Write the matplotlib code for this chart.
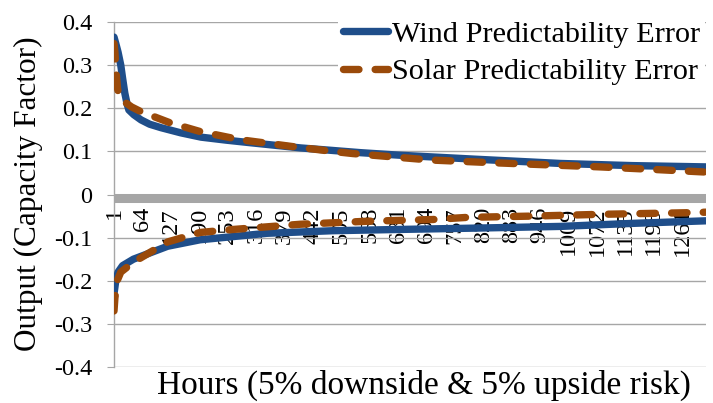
import matplotlib
matplotlib.use("Agg")
import matplotlib.pyplot as plt
from matplotlib.transforms import offset_copy

# ========== DATA ==========
wind_up_hours = [1, 5, 10, 16, 20, 25, 30, 34, 45, 61, 80, 105, 149, 194, 250, 304, 415, 548, 636, 800, 991, 1150, 1314]
wind_up = [0.365, 0.35, 0.33, 0.30, 0.27, 0.235, 0.21, 0.196, 0.185, 0.173, 0.163, 0.155, 0.143, 0.133,
           0.126, 0.12, 0.108, 0.097, 0.091, 0.082, 0.072, 0.067, 0.064]

solar_up_hours = [1, 3, 6, 9, 12, 20, 40, 61, 126, 192, 281, 398, 486, 530, 702, 858, 1079, 1200, 1314]
solar_up = [0.35, 0.33, 0.28, 0.245, 0.228, 0.218, 0.203, 0.192, 0.166, 0.146, 0.127, 0.111, 0.1, 0.095,
            0.08, 0.073, 0.064, 0.058, 0.052]

wind_down_hours = [1, 5, 10, 20, 44, 120, 192, 340, 485, 636, 800, 991, 1150, 1314]
wind_down = [-0.23, -0.2, -0.18, -0.165, -0.15, -0.12, -0.105, -0.09, -0.084, -0.081, -0.078, -0.074,
             -0.067, -0.061]

solar_down_hours = [1, 3, 8, 16, 44, 120, 192, 266, 414, 563, 708, 785, 932, 1079, 1285, 1314]
solar_down = [-0.27, -0.24, -0.2, -0.18, -0.157, -0.11, -0.088, -0.081, -0.069, -0.062, -0.058, -0.053,
              -0.05, -0.046, -0.042, -0.041]

x_ticks = [1, 64, 127, 190, 253, 316, 379, 442, 505, 568, 631, 694, 757, 820, 883, 946, 1009, 1072, 1135, 1198, 1261]
y_ticks = [-0.4, -0.3, -0.2, -0.1, 0, 0.1, 0.2, 0.3, 0.4]
y_labels = ["-0.4", "-0.3", "-0.2", "-0.1", "0", "0.1", "0.2", "0.3", "0.4"]

# ========== STYLE ==========
plt.rcParams["font.family"] = ["Liberation Serif", "DejaVu Serif"]
BLUE = "#1F4E8A"
BROWN = "#9A4A0A"
GRID = "#A6A6A6"

fig = plt.figure(figsize=(7.13, 4.03), dpi=100)
ax = fig.add_axes([114 / 713, 1 - 367 / 403, (706 - 114) / 713, (367 - 22) / 403])

ax.plot(wind_up_hours, wind_up, color=BLUE, lw=5.3, solid_capstyle="round", label="Wind Predictability Error", zorder=3)
ax.plot(wind_down_hours, wind_down, color=BLUE, lw=5.3, solid_capstyle="round", zorder=3)

l1, = ax.plot(solar_up_hours, solar_up, color=BROWN, lw=5.3, dash_capstyle="round",
              label="Solar Predictability Error", zorder=4)
l2, = ax.plot(solar_down_hours, solar_down, color=BROWN, lw=5.3, dash_capstyle="round", zorder=4)
for ln in (l1, l2):
    ln.set_dashes([2.1, 2.2])

# zero axis line (gray band, sits just under the 0 gridline like Excel)
band = ax.axhline(0, color=GRID, lw=6.5, zorder=2)
band.set_transform(offset_copy(ax.get_yaxis_transform(), fig=fig, y=-3, units="dots"))

ax.set_xlim(1, 1314)
ax.set_ylim(-0.4, 0.4)
ax.set_yticks(y_ticks)
ax.set_yticklabels(y_labels, fontsize=17.5)
ax.grid(axis="y", color=GRID, lw=1.0, zorder=1)

ax.spines["top"].set_visible(False)
ax.spines["right"].set_visible(False)
ax.spines["left"].set_color(GRID)
ax.spines["left"].set_linewidth(1.0)
ax.spines["bottom"].set_position(("data", 0))
ax.spines["bottom"].set_visible(False)
ax.tick_params(axis="y", length=5, color=GRID, pad=10.5)

ax.set_xticks(x_ticks)
ax.set_xticklabels([str(t) for t in x_ticks], rotation=90, fontsize=17.5, va="top", ha="center")
ax.tick_params(axis="x", length=0, pad=9)

fig.text(28 / 713, 1 - 194 / 403, "Output (Capacity Factor)", rotation=90, fontsize=22.5,
         ha="center", va="center")
fig.text(424 / 713, 1 - 385 / 403, "Hours (5% downside & 5% upside risk)", fontsize=24,
         ha="center", va="center")

leg = ax.legend(loc="upper left", bbox_to_anchor=(338 / 713, 1 - 16 / 403), bbox_transform=fig.transFigure,
                fontsize=21.8, frameon=True, fancybox=False, edgecolor="none", facecolor="white",
                framealpha=1, borderpad=0.15, borderaxespad=0, handlelength=1.5, handletextpad=0.15,
                labelspacing=0.34)
leg.set_zorder(5)

fig.savefig("out.png", dpi=100)
